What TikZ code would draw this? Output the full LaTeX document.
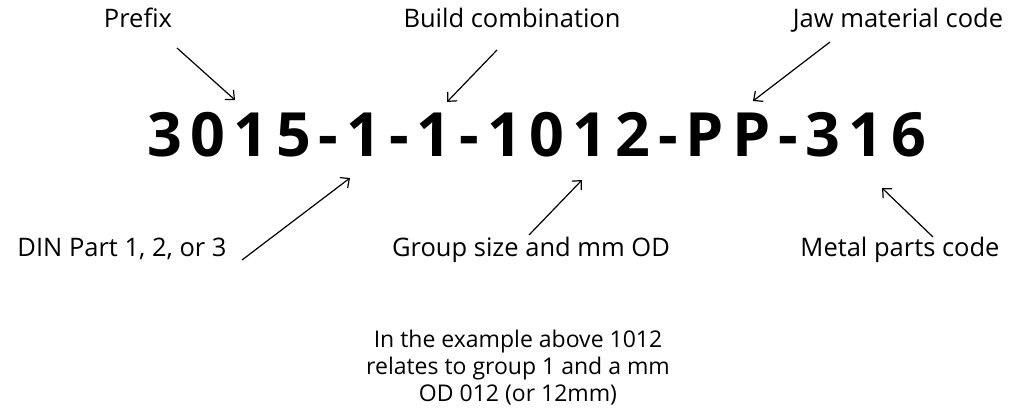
\documentclass[tikz,border=0pt]{standalone}
\usepackage{fontspec}
\setmainfont{Open Sans}
\newfontfamily\codefont[LetterSpace=13]{Open Sans}
\usetikzlibrary{arrows.meta}
\newcommand{\partsize}{\fontsize{25.5}{30}\selectfont}
\newcommand{\codesize}{\codefont\fontsize{61}{70}\selectfont\bfseries}
\newcommand{\notesize}{\fontsize{23}{27}\selectfont}
\tikzset{
    part/.style={anchor=base, inner sep=0pt, font=\partsize},
    code/.style={anchor=base, inner sep=0pt, font=\codesize},
    note/.style={anchor=base, inner sep=0pt, align=center, font=\notesize},
    pointer/.style={-{Straight Barb[length=7pt, width=13pt]}, line width=1.2pt}
}

\begin{document}
\begin{tikzpicture}[x=1pt, y=-1pt]
    \useasboundingbox (0,0) rectangle (1027,411);

    \node[part] (prefix) at (138,28) {Prefix};
    \node[part] (build) at (512,28) {Build combination};
    \node[part] (jaw) at (898,28) {Jaw material code};
    \node[code] (partno) at (537,157) {3015-1-1-1012-PP-316};
    \node[part] (din) at (122,257) {DIN Part 1, 2, or 3};
    \node[part] (group) at (531,257) {Group size and mm OD};
    \node[part] (metal) at (900,257) {Metal parts code};
    \node[note] (example) at (518,401) {In the example above 1012\\relates to group 1 and a mm\\OD 012 (or 12mm)};

    \coordinate (prefix-tip) at (235,100);
    \coordinate (build-tip) at (447,102);
    \coordinate (jaw-tip) at (753,101);
    \coordinate (din-tip) at (350,178);
    \coordinate (group-tip) at (582,180);
    \coordinate (metal-tip) at (882,188);

    \draw[pointer] ([shift={(39,20)}]prefix.base) -- (prefix-tip);
    \draw[pointer] ([shift={(-15,22)}]build.base) -- (build-tip);
    \draw[pointer] ([shift={(-68,14)}]jaw.base) -- (jaw-tip);
    \draw[pointer] ([shift={(120,3)}]din.base) -- (din-tip);
    \draw[pointer] ([shift={(-2,-22)}]group.base) -- (group-tip);
    \draw[pointer] ([shift={(33,-20)}]metal.base) -- (metal-tip);
\end{tikzpicture}
\end{document}
